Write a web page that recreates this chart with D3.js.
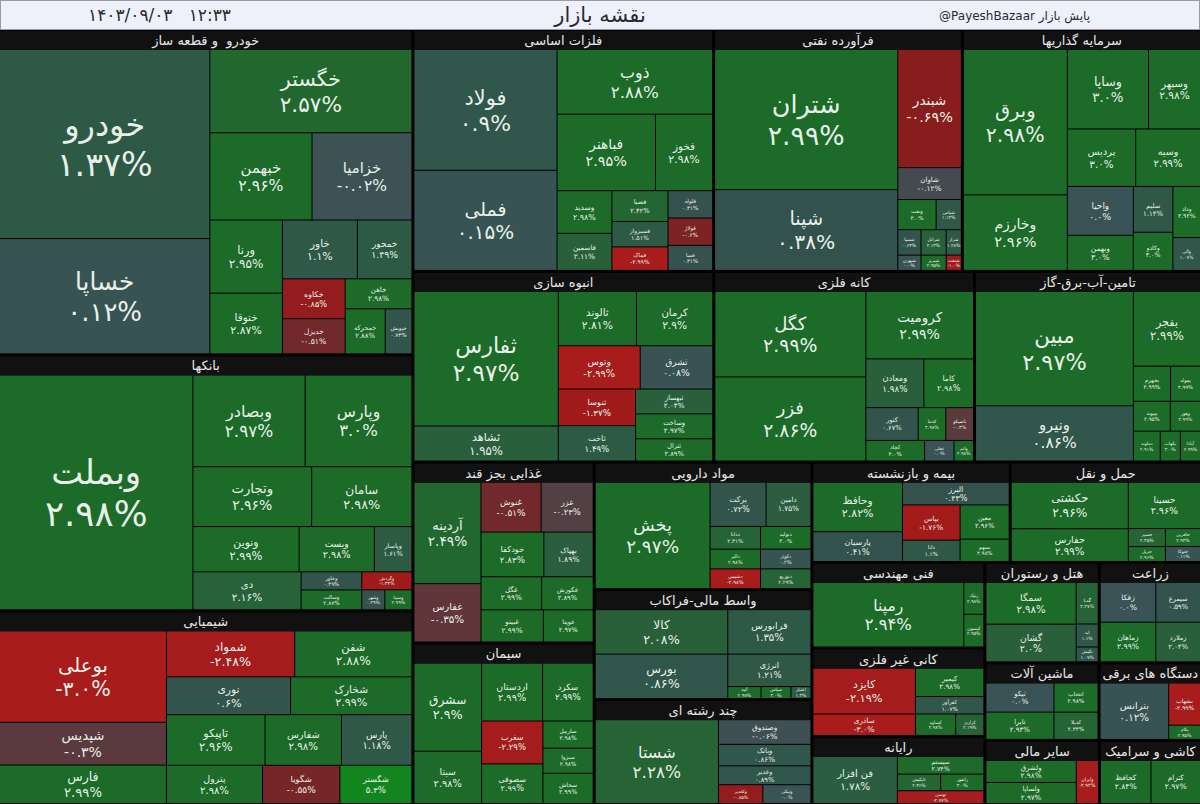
<!DOCTYPE html>
<meta charset="utf-8">
<script src="https://d3js.org/d3.v7.min.js"></script>
<style>
  body { margin: 0; background: #000; }
  svg { display: block; }
</style>
<svg width="1200" height="804"></svg>
<script>

const titleText = 'نقشه بازار';
const dateText = '۱۴۰۳/۰۹/۰۳   ۱۲:۳۳';
const brandHandle = '@PayeshBazaar';
const brandName = 'پایش بازار';

const sectorNames = ['خودرو  و قطعه ساز', 'بانکها', 'شیمیایی', 'فلزات اساسی', 'فرآورده نفتی',
    'سرمایه گذاریها', 'انبوه سازی', 'کانه فلزی', 'تامین-آب-برق-گاز', 'غذایی بجز قند', 'سیمان',
    'مواد دارویی', 'واسط مالی-فراکاب', 'چند رشته ای', 'بیمه و بازنشسته', 'حمل و نقل', 'فنی مهندسی',
    'کانی غیر فلزی', 'رایانه', 'هتل و رستوران', 'زراعت', 'ماشین آلات', 'دستگاه های برقی',
    'سایر مالی', 'کاشی و سرامیک'];
const sectorTotals = [134.0, 105.4, 79.8, 72.3, 59.8, 57.5, 57.0, 49.4, 43.0, 32.6, 29.1,
    27.6, 23.8, 22.7, 19.8, 19.1, 14.7, 15.2, 11.7, 11.4, 10.2, 8.8, 7.9, 7.3, 6.5];

// [symbol, size, change %]
const autoTiles = [['خودرو', 397, 1.37], ['خساپا', 242, 0.12], ['خگستر', 168, 2.57], ['خبهمن', 89, 2.96],
    ['خزامیا', 87, -0.02], ['ورنا', 53, 2.95], ['ختوقا', 44, 2.87], ['خاور', 44, 1.1], ['خمحور', 32, 1.49],
    ['خکاوه', 25, -0.85], ['خدیزل', 22, -0.51], ['خاهن', 20, 2.98], ['خمحرکه', 18, 2.88], ['خپویش', 12, 0.73]];
const bankTiles = [['وبملت', 454, 2.98], ['وبصادر', 103, 2.97], ['وپارس', 98, 3.0], ['وتجارت', 71, 2.96],
    ['سامان', 60, 2.98], ['ونوین', 48, 2.99], ['ویست', 34, 2.98], ['وپاسار', 17, 1.61], ['دی', 41, 2.16],
    ['وخاور', 11, 0.49], ['وسالت', 12, 2.87], ['وگردش', 9, -1.34], ['وشهر', 4.6, 0.29], ['وسینا', 5.4, 2.99]];
const chemTiles = [['بوعلی', 150, -3.0], ['شپدیس', 70, -0.3], ['فارس', 63, 2.99], ['شمواد', 58, -2.48],
    ['شفن', 53, 2.88], ['نوری', 46, 0.6], ['شخارک', 45, 2.99], ['تاپیکو', 49, 2.96], ['شفارس', 38, 2.98],
    ['پارس', 35, 1.18], ['پترول', 36, 2.98], ['شگویا', 29, -0.55], ['شگستر', 27, 5.3]];
const metalTiles = [['فولاد', 170, 0.9], ['فملی', 141, 0.15], ['ذوب', 99, 2.88], ['فباهنر', 74, 2.95],
    ['فخوز', 43, 2.98], ['وسدید', 23, 2.98], ['فاسمین', 20, 2.11], ['فصبا', 17, 2.42], ['فسبزوار', 14, 1.51],
    ['فماک', 13, -2.99], ['فلوله', 12, 0.31], ['فولاژ', 12, -0.6], ['فسا', 11, 0.31]];
const oilTiles = [['شتران', 253, 2.99], ['شپنا', 146, 0.38], ['شبندر', 74, -0.69], ['شاوان', 20, -0.12],
    ['ونفت', 11.4, 3.0], ['شپاس', 7.5, 1.13], ['شسپا', 5.8, 0.64], ['شبهرن', 3.5, 0.0], ['شرانل', 6.3, 2.13],
    ['شبریز', 3.8, 2.95], ['شراز', 3.8, 1.28], ['شنفت', 2.3, -1.0]];
const investTiles = [['وبرق', 150, 2.98], ['وخارزم', 78, 2.96], ['وساپا', 64, 3.0], ['وسپهر', 41, 2.98],
    ['پردیس', 39, 3.0], ['وسیه', 37, 2.99], ['واحیا', 32, 0.0], ['وبهمن', 23, 3.0], ['سلیم', 18, 1.14],
    ['وکادو', 15, 3.0], ['وداد', 14, 2.92], ['والی', 9, 1.07]];
const buildTiles = [['ثفارس', 192, 2.97], ['ثشاهد', 50, 1.95], ['ثالوند', 42, 2.81], ['کرمان', 41, 2.9],
    ['وتوس', 35, -2.99], ['ثشرق', 31, 0.08], ['ثنوسا', 28, -1.37], ['ثاخت', 27, 1.49], ['ثبهساز', 19, 2.04],
    ['وساخت', 19, 2.97], ['ثترال', 17, 2.89]];
const mineTiles = [['کگل', 128, 2.99], ['فزر', 126, 2.86], ['کرومیت', 72, 2.99], ['ومعادن', 28, 1.98],
    ['کاما', 24, 2.98], ['کتور', 17, 0.67], ['کدما', 9, 2.98], ['تاصیکو', 9, -0.3], ['کچاد', 12, 3.0],
    ['تجلی', 6, 0.0], ['واتم', 4, 2.98]];
const powerTiles = [['مبین', 180, 2.97], ['ونیرو', 87, 0.86], ['بفجر', 50, 2.99], ['بجهرم', 13, 2.99],
    ['بمولد', 10.5, 2.99], ['بپیوند', 11, 2.95], ['وهور', 9, 2.99], ['دماوند', 8, 2.91], ['بکهاب', 6, 3.0],
    ['آبادا', 6, 2.99]];
const foodTiles = [['آردینه', 68, 2.49], ['غفارس', 39, -0.35], ['غنوش', 30, -0.51], ['غزر', 26, -0.23],
    ['خودکفا', 28, 2.83], ['بهپاک', 22, 1.89], ['غگل', 20, 2.99], ['غکورش', 17, 2.89], ['غبینو', 20, 2.99],
    ['غویتا', 16, 2.97]];
const cementTiles = [['سشرق', 59, 2.9], ['سیتا', 35, 2.98], ['اردستان', 35, 2.99], ['سکرد', 29, 2.99],
    ['سغرب', 26, -2.29], ['سصوفی', 24, 2.99], ['ساربیل', 13.5, 2.98], ['سبزوا', 12.5, 2.98], ['سخاش', 15, 2.99]];
const pharmaTiles = [['پخش', 123, 2.97], ['برکت', 25, 0.72], ['دامین', 20, 1.75], ['ددانا', 11.5, 2.31],
    ['دتولید', 11.5, 3.0], ['دالبر', 10, 2.98], ['دکوثر', 10, 0.2], ['دشیمی', 10, -2.98], ['دتوزیع', 10, 2.29]];
const brokerTiles = [['کالا', 59, 2.08], ['بورس', 59, 0.86], ['فرابورس', 37, 1.35], ['انرژی', 27, 1.21],
    ['آتیه', 4, 2.97], ['سپاس', 3.6, 3.0], ['اعتبار', 2.4, 1.3]];
const multiTiles = [['شستا', 104, 2.28], ['وصندوق', 23, -0.06], ['وبانک', 20, 0.86], ['وغدیر', 17.5, 0.89],
    ['وکغدیر', 8.4, -0.85], ['ونیکی', 9.1, 0.0]];
const insureTiles = [['وحافظ', 44.5, 2.82], ['پارسیان', 26.7, 0.41], ['البرز', 24.4, 0.43], ['بپاس', 20.3, -1.76],
    ['دانا', 12.3, 1.1], ['معین', 16.8, 2.96], ['بسهم', 11, 2.98]];
const transTiles = [['حکشتی', 55, 2.96], ['حفارس', 38.6, 2.99], ['حسینا', 33.8, 2.96], ['حسیر', 6.7, 2.35],
    ['حریل', 5.6, 2.96], ['حافرین', 6.3, 2.93], ['حتوکا', 5.3, 0.11]];
const engTiles = [['رمپنا', 97.5, 2.94], ['رنیک', 6.4, 2.98], ['کیسون', 6.6, 2.95]];
const nonmetalTiles = [['کایزد', 45.9, -2.19], ['ساذری', 21.4, -3.0], ['کیمیر', 19, 2.98], ['کفرآور', 11.6, 1.07],
    ['کساوه', 8.4, 2.98], ['کرازی', 5.9, 2.19]];
const itTiles = [['فن افزار', 40.3, 1.78], ['سیستم', 15.5, 2.74], ['تاپکیش', 7.3, 2.46], ['رانفور', 7.3, 3.0],
    ['توسن', 11.2, -2.77]];
const hotelTiles = [['سمگا', 37.8, 2.98], ['گشان', 34.2, 2.0], ['گدنا', 9.2, 2.27], ['ابد', 5.1, 1.1],
    ['تکیش', 3.3, 1.07]];
const farmTiles = [['زفکا', 22.4, 0.0], ['زماهان', 22.4, 2.99], ['سیمرغ', 18, 0.59], ['زملارد', 18, 2.04]];
const machTiles = [['تیکو', 19.7, 0.0], ['تایرا', 18.4, 2.93], ['انتخاب', 12.8, 2.98], ['کدیلا', 11.9, 2.34]];
const electTiles = [['بترانس', 38.6, 0.12], ['بشهاب', 13.4, -2.99], ['بکام', 4.5, 2.95]];
const finTiles = [['ولشرق', 19.8, 2.98], ['ولساپا', 18.9, 2.97], ['وایران', 9.5, -2.92]];
const ceramicTiles = [['کحافظ', 21.9, 2.84], ['کترام', 21.5, 2.97]];

const sectorTiles = [autoTiles, bankTiles, chemTiles, metalTiles, oilTiles, investTiles, buildTiles,
    mineTiles, powerTiles, foodTiles, cementTiles, pharmaTiles, brokerTiles, multiTiles, insureTiles,
    transTiles, engTiles, nonmetalTiles, itTiles, hotelTiles, farmTiles, machTiles, electTiles,
    finTiles, ceramicTiles];

// how the tiles are split: H = side by side, V = stacked
const sectorShapes = [
    ['H', ['V', 'خودرو', 'خساپا'], ['V', 'خگستر', ['H', 'خبهمن', 'خزامیا'], ['H', ['V', 'ورنا', 'ختوقا'],
        ['V', ['H', 'خاور', 'خمحور'], ['H', ['V', 'خکاوه', 'خدیزل'], ['V', 'خاهن', ['H', 'خمحرکه', 'خپویش']]]]]]],
    ['H', 'وبملت', ['V', ['H', 'وبصادر', 'وپارس'], ['H', 'وتجارت', 'سامان'], ['H', 'ونوین', 'ویست', 'وپاسار'],
        ['H', 'دی', ['V', 'وخاور', 'وسالت'], ['V', 'وگردش', ['H', 'وشهر', 'وسینا']]]]],
    ['H', ['V', 'بوعلی', 'شپدیس', 'فارس'], ['V', ['H', 'شمواد', 'شفن'], ['H', 'نوری', 'شخارک'],
        ['H', 'تاپیکو', 'شفارس', 'پارس'], ['H', 'پترول', 'شگویا', 'شگستر']]],
    ['H', ['V', 'فولاد', 'فملی'], ['V', 'ذوب', ['H', 'فباهنر', 'فخوز'], ['H', ['V', 'وسدید', 'فاسمین'],
        ['V', 'فصبا', 'فسبزوار', 'فماک'], ['V', 'فلوله', 'فولاژ', 'فسا']]]],
    ['H', ['V', 'شتران', 'شپنا'], ['V', 'شبندر', 'شاوان', ['H', 'ونفت', 'شپاس'],
        ['H', ['V', 'شسپا', 'شبهرن'], ['V', 'شرانل', 'شبریز'], ['V', 'شراز', 'شنفت']]]],
    ['H', ['V', 'وبرق', 'وخارزم'], ['V', ['H', 'وساپا', 'وسپهر'], ['H', 'پردیس', 'وسیه'],
        ['H', ['V', 'واحیا', 'وبهمن'], ['V', 'سلیم', 'وکادو'], ['V', 'وداد', 'والی']]]],
    ['H', ['V', 'ثفارس', 'ثشاهد'], ['V', ['H', 'ثالوند', 'کرمان'], ['H', 'وتوس', 'ثشرق'],
        ['H', ['V', 'ثنوسا', 'ثاخت'], ['V', 'ثبهساز', 'وساخت', 'ثترال']]]],
    ['H', ['V', 'کگل', 'فزر'], ['V', 'کرومیت', ['H', 'ومعادن', 'کاما'], ['H', 'کتور', 'کدما', 'تاصیکو'],
        ['H', 'کچاد', 'تجلی', 'واتم']]],
    ['H', ['V', 'مبین', 'ونیرو'], ['V', 'بفجر', ['H', 'بجهرم', 'بمولد'], ['H', 'بپیوند', 'وهور'],
        ['H', 'دماوند', 'بکهاب', 'آبادا']]],
    ['H', ['V', 'آردینه', 'غفارس'], ['V', ['H', 'غنوش', 'غزر'], ['H', 'خودکفا', 'بهپاک'], ['H', 'غگل', 'غکورش'],
        ['H', 'غبینو', 'غویتا']]],
    ['H', ['V', 'سشرق', 'سیتا'], ['V', ['H', 'اردستان', 'سکرد'], ['H', ['V', 'سغرب', 'سصوفی'],
        ['V', 'ساربیل', 'سبزوا', 'سخاش']]]],
    ['H', 'پخش', ['V', ['H', 'برکت', 'دامین'], ['H', 'ددانا', 'دتولید'], ['H', 'دالبر', 'دکوثر'],
        ['H', 'دشیمی', 'دتوزیع']]],
    ['H', ['V', 'کالا', 'بورس'], ['V', 'فرابورس', 'انرژی', ['H', 'آتیه', 'سپاس', 'اعتبار']]],
    ['H', 'شستا', ['V', 'وصندوق', 'وبانک', 'وغدیر', ['H', 'وکغدیر', 'ونیکی']]],
    ['H', ['V', 'وحافظ', 'پارسیان'], ['V', 'البرز', ['H', ['V', 'بپاس', 'دانا'], ['V', 'معین', 'بسهم']]]],
    ['H', ['V', 'حکشتی', 'حفارس'], ['V', 'حسینا', ['H', ['V', 'حسیر', 'حریل'], ['V', 'حافرین', 'حتوکا']]]],
    ['H', 'رمپنا', ['V', 'رنیک', 'کیسون']],
    ['H', ['V', 'کایزد', 'ساذری'], ['V', 'کیمیر', 'کفرآور', ['H', 'کساوه', 'کرازی']]],
    ['H', 'فن افزار', ['V', 'سیستم', ['H', 'تاپکیش', 'رانفور'], 'توسن']],
    ['H', ['V', 'سمگا', 'گشان'], ['V', 'گدنا', 'ابد', 'تکیش']],
    ['H', ['V', 'زفکا', 'زماهان'], ['V', 'سیمرغ', 'زملارد']],
    ['H', ['V', 'تیکو', 'تایرا'], ['V', 'انتخاب', 'کدیلا']],
    ['H', 'بترانس', ['V', 'بشهاب', 'بکام']],
    ['H', ['V', 'ولشرق', 'ولساپا'], 'وایران'],
    ['H', 'کحافظ', 'کترام']
];

// sector indexes on the whole map
const mapShape = ['H', ['V', 0, 1, 2], ['V', ['H', 3, 4, 5], ['H', 6, 7, 8],
    ['H', ['V', 9, 10], ['V', 11, 12, 13], ['V', ['H', 14, 15],
        ['H', ['V', 16, 17, 18], ['V', ['H', 19, 20], ['H', 21, 22], ['H', 23, 24]]]]]]];

const width = 1200, height = 804, mapTop = 31;

const svg = d3.select('svg');
svg.append('rect').attr('width', width).attr('height', height).attr('fill', '#000');

function build(spec, leaf) {
    if (typeof spec !== 'object') return leaf(spec);
    return {dir: spec[0], children: spec.slice(1).map(s => build(s, leaf))};
}

function sectorNode(i) {
    const rows = sectorTiles[i];
    const inner = build(sectorShapes[i], sym => {
        const r = rows.find(t => t[0] === sym);
        return {name: r[0], value: r[1], pct: r[2], kind: 'tile'};
    });
    return {name: sectorNames[i], kind: 'sector', total: sectorTotals[i], dir: inner.dir, children: inner.children};
}

const root = d3.hierarchy(build(mapShape, sectorNode));
root.eachAfter(n => {
    n.value = n.data.kind === 'sector' ? n.data.total
        : n.children ? d3.sum(n.children, c => c.value) : n.data.value;
});
root.each(n => {
    n.inSector = n.data.kind === 'sector' || (n.parent && n.parent.inSector);
});

const tile = (node, x0, y0, x1, y1) => {
    const v = node.value;
    node.value = d3.sum(node.children, c => c.value);
    (node.data.dir === 'H' ? d3.treemapDice : d3.treemapSlice)(node, x0, y0, x1, y1);
    node.value = v;
};

d3.treemap()
    .size([width, height - mapTop - 1])
    .tile(tile)
    .paddingInner(n => n.inSector ? 1 : 3)
    .paddingTop(n => n.data.kind === 'sector' ? 19 : 0)(root);

const color = d3.scaleLinear()
    .domain([-3, -1, -0.7, -0.5, -0.3, -0.12, 0, 0.4, 1, 1.5, 2, 2.5, 2.85, 3.1, 5.3])
    .range(['#a81c1c', '#a01b1b', '#8a1c1c', '#702a2c', '#5b3a3e', '#454a50', '#3a5356', '#34524d',
        '#30574a', '#2d5a44', '#2a5f3c', '#236730', '#1c6b28', '#1c6b28', '#13851f'])
    .clamp(true);

const fa = s => s.replace(/\d/g, d => '۰۱۲۳۴۵۶۷۸۹'[d]);
const fmtPct = v => {
    let s = String(Math.abs(v));
    if (!s.includes('.')) s += '.0';
    return (v < 0 ? '-' : '') + fa(s) + '%';
};

const g = svg.append('g').attr('transform', 'translate(0,' + mapTop + ')');

const sectors = root.descendants().filter(n => n.data.kind === 'sector');
const leaves = root.leaves();

g.selectAll('rect.tile')
    .data(leaves)
    .join('rect')
    .attr('class', 'tile')
    .attr('x', d => d.x0)
    .attr('y', d => d.y0)
    .attr('width', d => d.x1 - d.x0)
    .attr('height', d => d.y1 - d.y0)
    .attr('fill', d => color(d.data.pct));

const label = leaves.filter(d => d.x1 - d.x0 >= 12 && d.y1 - d.y0 >= 10);

const lab = g.selectAll('g.lab')
    .data(label)
    .join('g')
    .attr('class', 'lab')
    .attr('font-family', 'DejaVu Sans')
    .attr('fill', '#e8f1e9')
    .attr('text-anchor', 'middle');

lab.append('text').attr('class', 'sym').text(d => d.data.name);
lab.append('text').attr('class', 'pct').attr('direction', 'ltr').text(d => fmtPct(d.data.pct));

lab.each(function (d) {
    const w = d.x1 - d.x0, h = d.y1 - d.y0;
    let fs = Math.min(0.16 * Math.sqrt(w * h), w / 4.2, h / 2.6, 34);
    const sel = d3.select(this);
    sel.selectAll('text').attr('font-size', 10);
    const sym = sel.select('.sym'), pct = sel.select('.pct');
    // shrink so both lines fit the tile width
    const wide = Math.max(sym.node().getComputedTextLength(), pct.node().getComputedTextLength() * 1.05) / 10;
    fs = Math.max(4.5, Math.min(fs, (w - 3) / wide));
    const cx = (d.x0 + d.x1) / 2, cy = (d.y0 + d.y1) / 2;
    sym.attr('x', cx).attr('y', cy - 0.25 * fs).attr('font-size', fs);
    pct.attr('x', cx).attr('y', cy + 1.0 * fs).attr('font-size', fs * 1.05);
});

g.selectAll('rect.head')
    .data(sectors)
    .join('rect')
    .attr('class', 'head')
    .attr('x', d => d.x0)
    .attr('y', d => d.y0)
    .attr('width', d => d.x1 - d.x0)
    .attr('height', 19)
    .attr('fill', '#111');

g.selectAll('text.head')
    .data(sectors)
    .join('text')
    .attr('class', 'head')
    .attr('x', d => (d.x0 + d.x1) / 2)
    .attr('y', d => d.y0 + 14)
    .attr('text-anchor', 'middle')
    .attr('font-family', 'DejaVu Sans')
    .attr('font-size', 13)
    .attr('fill', '#e6e6e6')
    .style('white-space', 'pre')
    .text(d => d.data.name);

// title bar
svg.append('rect')
    .attr('x', 0.5).attr('y', 0.5)
    .attr('width', width - 1).attr('height', 29)
    .attr('fill', '#eef0fa')
    .attr('stroke', '#9a9aa8');

svg.append('text')
    .attr('x', 600).attr('y', 22)
    .attr('text-anchor', 'middle')
    .attr('font-family', 'DejaVu Sans')
    .attr('font-size', 21)
    .attr('fill', '#2a2a33')
    .text(titleText);

svg.append('text')
    .attr('x', 88).attr('y', 21)
    .attr('direction', 'ltr')
    .attr('font-family', 'DejaVu Sans')
    .attr('font-size', 17)
    .attr('fill', '#2a2a33')
    .style('white-space', 'pre')
    .text(dateText);

svg.append('text')
    .attr('x', 1035).attr('y', 20)
    .attr('text-anchor', 'end')
    .attr('font-family', 'DejaVu Sans')
    .attr('font-size', 12)
    .attr('fill', '#2a2a33')
    .text(brandHandle);

svg.append('text')
    .attr('x', 1090).attr('y', 20)
    .attr('text-anchor', 'end')
    .attr('font-family', 'DejaVu Sans')
    .attr('font-size', 12)
    .attr('fill', '#2a2a33')
    .text(brandName);

</script>
